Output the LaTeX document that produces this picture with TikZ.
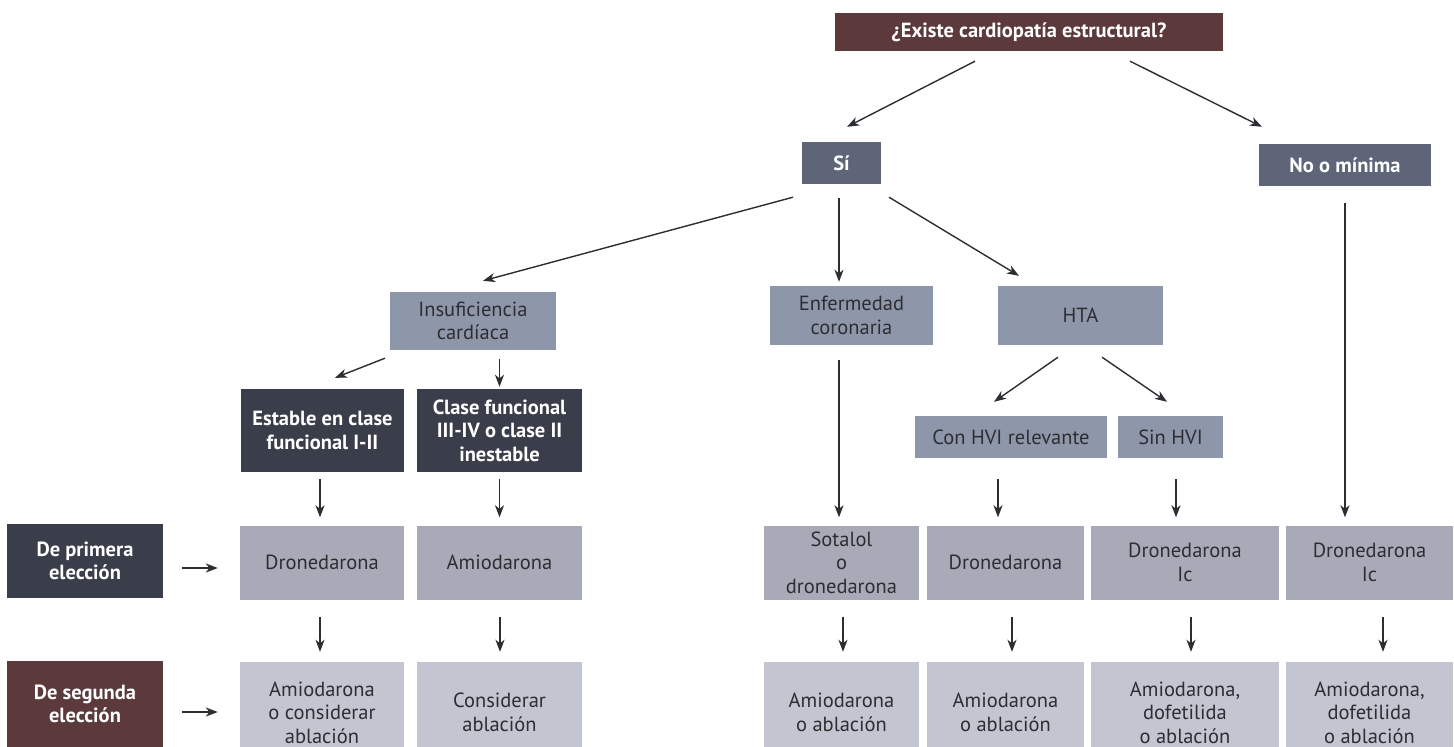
\documentclass[tikz,border=0pt]{standalone}
\usepackage{fontspec}
\setmainfont{PT Sans}
\usepackage{tikz}
\usetikzlibrary{arrows.meta}

\definecolor{vino}{RGB}{92,58,60}
\definecolor{pizarra}{RGB}{94,101,121}
\definecolor{oscuro}{RGB}{58,61,74}
\definecolor{medio}{RGB}{142,151,170}
\definecolor{claro}{RGB}{168,170,183}
\definecolor{palido}{RGB}{195,197,209}
\definecolor{tinta}{RGB}{45,45,50}

\tikzset{
    box/.style={rectangle, inner sep=1pt, align=center, font=\fontsize{20.5}{23.5}\selectfont},
    darkbox/.style={box, fill=#1, text=white, font=\fontsize{20.5}{23.5}\selectfont\bfseries},
    lightbox/.style={box, fill=#1, text=tinta},
    arr/.style={-{Stealth[length=12pt,width=9pt,inset=3.5pt]}, line width=1.4pt, draw=tinta}
}

\begin{document}
\begin{tikzpicture}[x=1pt, y=-1pt]
    \useasboundingbox (0,0) rectangle (1454,747);

    % Question and first split
    \node[darkbox=vino, minimum width=388pt, minimum height=38pt] (q) at (1029,32) {¿Existe cardiopatía estructural?};
    \node[darkbox=pizarra, minimum width=79pt, minimum height=42pt] (si) at (841.5,163) {Sí};
    \node[darkbox=pizarra, minimum width=172pt, minimum height=42pt] (nomin) at (1345,165) {No o mínima};

    % Type of heart disease
    \node[lightbox=medio, minimum width=166pt, minimum height=58pt] (insuf) at (473,321) {Insuficiencia\\cardíaca};
    \node[lightbox=medio, minimum width=163pt, minimum height=59pt] (enf) at (851.5,315.5) {Enfermedad\\coronaria};
    \node[lightbox=medio, minimum width=165pt, minimum height=59pt] (hta) at (1080.5,315.5) {HTA};

    \node[darkbox=oscuro, minimum width=163pt, minimum height=83pt] (estable) at (322.5,430.5) {Estable en clase\\funcional I-II};
    \node[darkbox=oscuro, minimum width=165pt, minimum height=83pt] (clase) at (499.5,430.5) {Clase funcional\\III-IV o clase II\\inestable};
    \node[lightbox=medio, minimum width=192pt, minimum height=42pt] (conhvi) at (1011,437) {Con HVI relevante};
    \node[lightbox=medio, minimum width=105pt, minimum height=42pt] (sinhvi) at (1170.5,437) {Sin HVI};

    % Row labels
    \node[darkbox=oscuro, minimum width=156pt, minimum height=74pt] (primera) at (85,561) {De primera\\elección};
    \node[darkbox=vino, minimum width=156pt, minimum height=86pt] (segunda) at (85,704) {De segunda\\elección};

    % Drug rows, one column at a time
    \foreach \i/\cx/\w/\dx/\ptext/\stext in {
        1/322/164/-2/{Dronedarona}/{Amiodarona\\o considerar\\ablación},
        2/499.5/165/0.5/{Amiodarona}/{Considerar\\ablación},
        3/841.5/155/1.5/{Sotalol\\o\\dronedarona}/{Amiodarona\\o ablación},
        4/1005.5/157/6.5/{Dronedarona}/{Amiodarona\\o ablación},
        5/1185/188/6/{Dronedarona\\Ic}/{Amiodarona,\\dofetilida\\o ablación},
        6/1369.5/167/13.5/{Dronedarona\\Ic}/{Amiodarona,\\dofetilida\\o ablación}} {
        \node[lightbox=claro, minimum width=\w pt, minimum height=74pt] (p\i) at (\cx,562.5) {\ptext};
        \node[lightbox=palido, minimum width=\w pt, minimum height=101pt] (s\i) at (\cx,712.5) {\stext};
        \draw[arr] ([xshift=\dx pt, yshift=-17pt]p\i.south) -- ([xshift=\dx pt, yshift=10pt]s\i.north);
    }

    % Arrows
    \draw[arr] ([xshift=-54pt, yshift=-10pt]q.south) -- ([xshift=5.5pt, yshift=15pt]si.north);
    \draw[arr] ([xshift=101pt, yshift=-10pt]q.south) -- ([xshift=-83pt, yshift=17pt]nomin.north);

    \draw[arr] ([xshift=-48.5pt, yshift=-13pt]si.south) -- ([xshift=10pt, yshift=11pt]insuf.north);
    \draw[arr] ([xshift=-2.5pt, yshift=-14pt]si.south) -- ([xshift=-2.5pt, yshift=4pt]si.south |- enf.north);
    \draw[arr] ([xshift=47.5pt, yshift=-13pt]si.south) -- ([xshift=-61.5pt, yshift=10pt]hta.north);

    \draw[arr] ([xshift=-88pt, yshift=-8pt]insuf.south) -- ([xshift=12.5pt, yshift=11pt]estable.north);
    \draw[arr] ([yshift=-9pt]clase.north |- insuf.south) -- ([yshift=2pt]clase.north);
    \draw[arr] ([xshift=-22.5pt, yshift=-12pt]hta.south) -- ([xshift=-17pt, yshift=14pt]conhvi.north);
    \draw[arr] ([xshift=21.5pt, yshift=-12pt]hta.south) -- ([xshift=-3.5pt, yshift=14pt]sinhvi.north);

    \draw[arr] ([xshift=-2.5pt, yshift=-7pt]estable.south) -- ([xshift=-2.5pt, yshift=8pt]estable.south |- p1.north);
    \draw[arr] ([yshift=-7pt]clase.south) -- ([yshift=8pt]clase.south |- p2.north);
    \draw[arr] ([xshift=-2.5pt, yshift=-15pt]p3.north |- enf.south) -- ([xshift=-2.5pt, yshift=8pt]p3.north);
    \draw[arr] ([xshift=-13pt, yshift=-21pt]conhvi.south) -- ([xshift=-13pt, yshift=8pt]conhvi.south |- p4.north);
    \draw[arr] ([xshift=5.5pt, yshift=-21pt]sinhvi.south) -- ([xshift=5.5pt, yshift=8pt]sinhvi.south |- p5.north);
    \draw[arr] ([yshift=-17pt]nomin.south) -- ([yshift=8pt]nomin.south |- p6.north);

    \draw[arr] ([xshift=19pt, yshift=-7pt]primera.east) -- ([xshift=-22pt, yshift=-7pt]p1.west |- primera.east);
    \draw[arr] ([xshift=19pt, yshift=-8pt]segunda.east) -- ([xshift=-22pt, yshift=-8pt]p1.west |- segunda.east);
\end{tikzpicture}
\end{document}
